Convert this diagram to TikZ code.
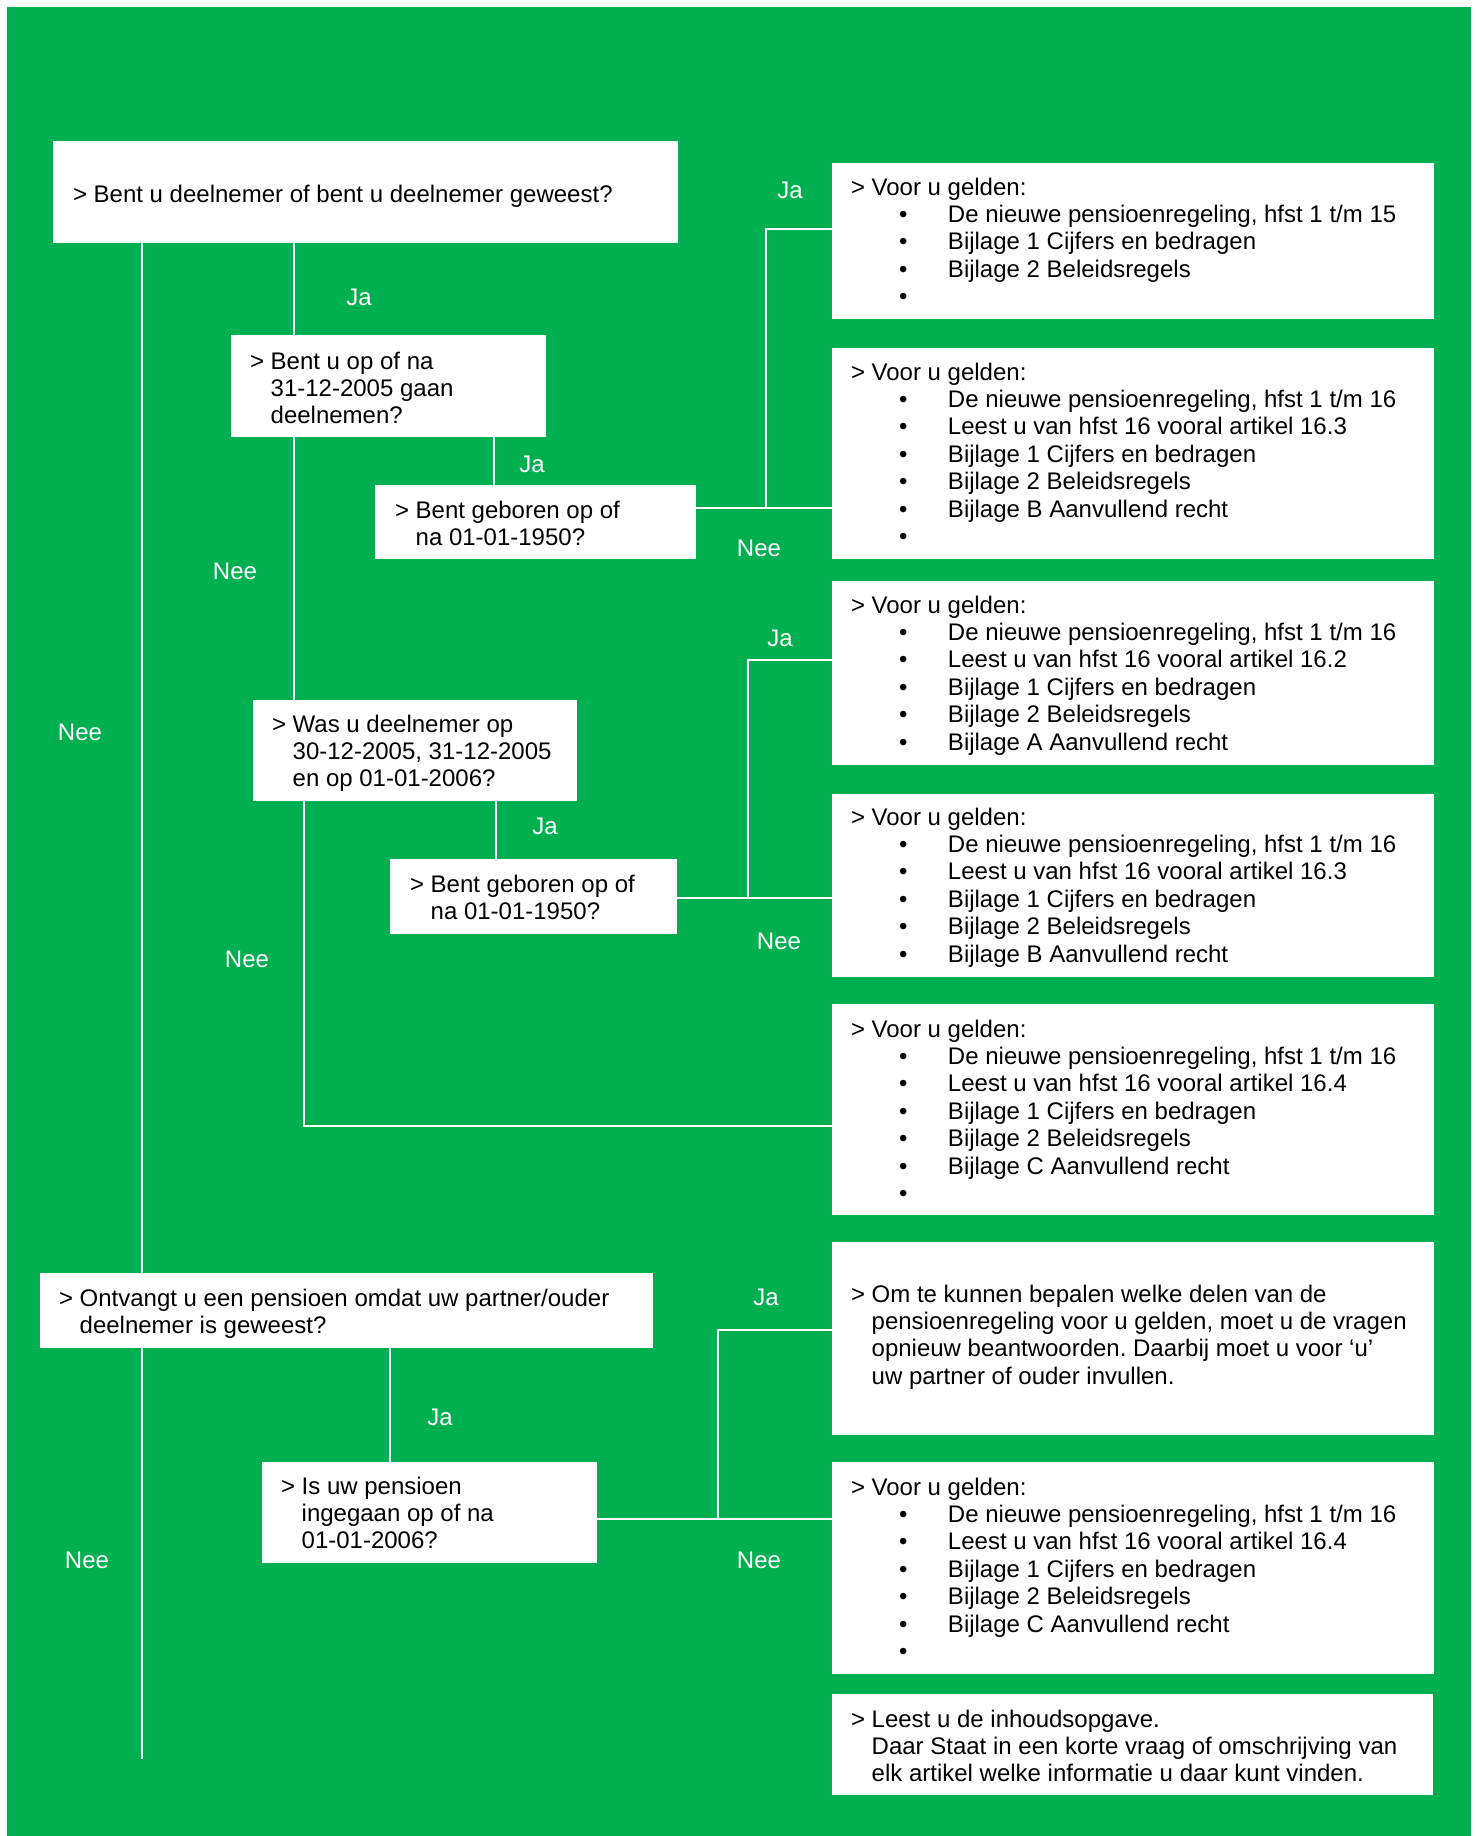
\documentclass[tikz,border=0pt]{standalone}
\usepackage{fontspec}
\setmainfont{Liberation Sans}
\usetikzlibrary{calc}
\definecolor{bggreen}{HTML}{00AF50}
\frenchspacing
\newcommand\bul{\hspace*{24pt}\makebox[24.5pt][l]{•}}
\newcommand\ind{\hphantom{>\ }}
\newcommand\txtlines[1]{\parbox[t]{340pt}{\fontsize{12pt}{13.7pt}\selectfont\frenchspacing\raggedright #1}}
\tikzset{
  bx/.style 2 args={fill=white, draw=none, inner sep=0pt, outer sep=0pt, anchor=north west,
    minimum width=#1*0.5pt, minimum height=#2*0.5pt},
  tx/.style={anchor=base west, inner sep=0pt, outer sep=0pt, text=black},
  lab/.style={text=white, inner sep=0pt, font=\fontsize{12pt}{13.7pt}\selectfont},
  con/.style={draw=white, line width=0.75pt}
}
\begin{document}
\begin{tikzpicture}[x=0.5pt, y=-0.5pt]
\useasboundingbox (0,0) rectangle (1477,1836);
\fill[white] (0,0) rectangle (1477,1836);
\fill[bggreen] (7,7) rectangle (1471,1836);

% question boxes
\node[bx={625}{102}] (q1) at (53,141) {};
\node[bx={315}{102}] (q2) at (231,335) {};
\node[bx={321}{74}]  (q3) at (375,485) {};
\node[bx={324}{101}] (q5) at (253,700) {};
\node[bx={287}{75}]  (q6) at (390,859) {};
\node[bx={613}{75}]  (q4) at (40,1273) {};
\node[bx={335}{101}] (q7) at (262,1462) {};
% result boxes
\node[bx={602}{156}] (r1) at (832,163) {};
\node[bx={602}{211}] (r2) at (832,348) {};
\node[bx={602}{184}] (r3) at (832,581) {};
\node[bx={602}{183}] (r4) at (832,794) {};
\node[bx={602}{211}] (r5) at (832,1004) {};
\node[bx={602}{193}] (r6) at (832,1242) {};
\node[bx={602}{212}] (r7) at (832,1462) {};
\node[bx={601}{101}] (r8) at (832,1694) {};

% connectors
\coordinate (lend) at (142,1759);
\draw[con] ($(q1.south west)+(89,0)$) -- ($(q4.north west)+(102,0)$);
\draw[con] ($(q4.south west)+(102,0)$) -- (lend);
\draw[con] ($(q1.south west)+(241,0)$) -- ($(q2.north west)+(63,0)$);
\draw[con] ($(q2.south west)+(263,0)$) -- ($(q3.north west)+(119,0)$);
\draw[con] ($(q3.north east)+(0,23)$) -- ($(r2.north west)+(0,160)$);
\draw[con] ($(q3.north east)+(70,23)$) |- ($(r1.north west)+(0,66)$);
\draw[con] ($(q2.south west)+(63,0)$) -- ($(q5.north west)+(41,0)$);
\draw[con] ($(q5.south west)+(243,0)$) -- ($(q6.north west)+(106,0)$);
\draw[con] ($(q6.north east)+(0,39)$) -- ($(r4.north west)+(0,104)$);
\draw[con] ($(q6.north east)+(71,39)$) |- ($(r3.north west)+(0,79)$);
\draw[con] ($(q5.south west)+(51,0)$) |- ($(r5.north west)+(0,122)$);
\draw[con] ($(q4.south west)+(350,0)$) -- ($(q7.north west)+(128,0)$);
\draw[con] ($(q7.north east)+(0,57)$) -- ($(r7.north west)+(0,57)$);
\draw[con] ($(q7.north east)+(121,57)$) |- ($(r6.north west)+(0,88)$);

% question texts
\node[tx] (q1t) at (73,202) {\txtlines{> Bent u deelnemer of bent u deelnemer geweest?}};
\node[tx] (q2t) at (250,369) {\txtlines{> Bent u op of na\\ \ind 31-12-2005 gaan\\ \ind deelnemen?}};
\node[tx] (q3t) at (395,518) {\txtlines{> Bent geboren op of\\ \ind na 01-01-1950?}};
\node[tx] (q5t) at (272,732) {\txtlines{> Was u deelnemer op\\ \ind 30-12-2005, 31-12-2005\\ \ind en op 01-01-2006?}};
\node[tx] (q6t) at (410,892) {\txtlines{> Bent geboren op of\\ \ind na 01-01-1950?}};
\node[tx] (q4t) at (59,1306) {\txtlines{> Ontvangt u een pensioen omdat uw partner/ouder\\ \ind deelnemer is geweest?}};
\node[tx] (q7t) at (281,1494) {\txtlines{> Is uw pensioen\\ \ind ingegaan op of na\\ \ind 01-01-2006?}};

% result texts
\node[tx] (r1t) at (851,195) {\txtlines{> Voor u gelden:\\
 \bul De nieuwe pensioenregeling, hfst 1 t/m 15\\
 \bul Bijlage 1 Cijfers en bedragen\\
 \bul Bijlage 2 Beleidsregels\\
 \bul}};
\node[tx] (r2t) at (851,380) {\txtlines{> Voor u gelden:\\
 \bul De nieuwe pensioenregeling, hfst 1 t/m 16\\
 \bul Leest u van hfst 16 vooral artikel 16.3\\
 \bul Bijlage 1 Cijfers en bedragen\\
 \bul Bijlage 2 Beleidsregels\\
 \bul Bijlage B Aanvullend recht\\
 \bul}};
\node[tx] (r3t) at (851,613) {\txtlines{> Voor u gelden:\\
 \bul De nieuwe pensioenregeling, hfst 1 t/m 16\\
 \bul Leest u van hfst 16 vooral artikel 16.2\\
 \bul Bijlage 1 Cijfers en bedragen\\
 \bul Bijlage 2 Beleidsregels\\
 \bul Bijlage A Aanvullend recht}};
\node[tx] (r4t) at (851,825) {\txtlines{> Voor u gelden:\\
 \bul De nieuwe pensioenregeling, hfst 1 t/m 16\\
 \bul Leest u van hfst 16 vooral artikel 16.3\\
 \bul Bijlage 1 Cijfers en bedragen\\
 \bul Bijlage 2 Beleidsregels\\
 \bul Bijlage B Aanvullend recht}};
\node[tx] (r5t) at (851,1037) {\txtlines{> Voor u gelden:\\
 \bul De nieuwe pensioenregeling, hfst 1 t/m 16\\
 \bul Leest u van hfst 16 vooral artikel 16.4\\
 \bul Bijlage 1 Cijfers en bedragen\\
 \bul Bijlage 2 Beleidsregels\\
 \bul Bijlage C Aanvullend recht\\
 \bul}};
\node[tx] (r6t) at (851,1302) {\txtlines{> Om te kunnen bepalen welke delen van de\\
 \ind pensioenregeling voor u gelden, moet u de vragen\\
 \ind opnieuw beantwoorden. Daarbij moet u voor ‘u’\\
 \ind uw partner of ouder invullen.}};
\node[tx] (r7t) at (851,1495) {\txtlines{> Voor u gelden:\\
 \bul De nieuwe pensioenregeling, hfst 1 t/m 16\\
 \bul Leest u van hfst 16 vooral artikel 16.4\\
 \bul Bijlage 1 Cijfers en bedragen\\
 \bul Bijlage 2 Beleidsregels\\
 \bul Bijlage C Aanvullend recht\\
 \bul}};
\node[tx] (r8t) at (851,1727) {\txtlines{> Leest u de inhoudsopgave.\\
 \ind Daar Staat in een korte vraag of omschrijving van\\
 \ind elk artikel welke informatie u daar kunt vinden.}};

% labels
\node[lab] (l1) at (359,297) {Ja};
\node[lab] (l2) at (532,464) {Ja};
\node[lab] (l3) at (790,190) {Ja};
\node[lab] (l4) at (759,548) {Nee};
\node[lab] (l5) at (235,571) {Nee};
\node[lab] (l6) at (80,732) {Nee};
\node[lab] (l7) at (545,826) {Ja};
\node[lab] (l8) at (780,638) {Ja};
\node[lab] (l9) at (779,941) {Nee};
\node[lab] (l10) at (247,959) {Nee};
\node[lab] (l11) at (766,1297) {Ja};
\node[lab] (l12) at (440,1417) {Ja};
\node[lab] (l13) at (759,1560) {Nee};
\node[lab] (l14) at (87,1560) {Nee};
\end{tikzpicture}
\end{document}
